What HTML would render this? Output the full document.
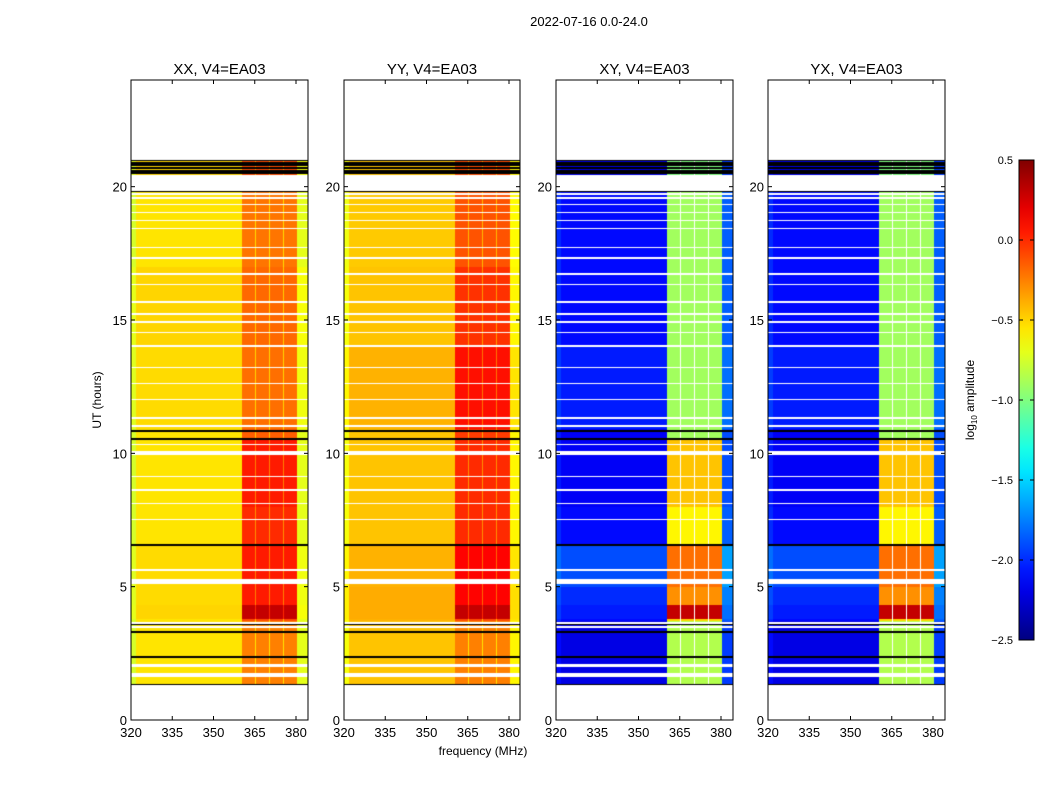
<!DOCTYPE html>
<html><head><meta charset="utf-8">
<style>
body{margin:0;background:#fff;}
#wrap{position:relative;width:1050px;height:800px;font-family:"Liberation Sans",sans-serif;}
canvas{position:absolute;}
svg{position:absolute;left:0;top:0;}
</style></head>
<body>
<div id="wrap">
<canvas id="c0" width="177" height="640" style="left:131px;top:80px"></canvas>
<canvas id="c1" width="176" height="640" style="left:344px;top:80px"></canvas>
<canvas id="c2" width="177" height="640" style="left:556px;top:80px"></canvas>
<canvas id="c3" width="177" height="640" style="left:768px;top:80px"></canvas>
<svg id="ov" width="1050" height="800"></svg>
</div>
<script>
// ---- data ----
const panelTitles = ["XX, V4=EA03","YY, V4=EA03","XY, V4=EA03","YX, V4=EA03"];
const panelLeft = [131,344,556,768];
const panelWidth = [177,176,177,177];
const xTicks = [320,335,350,365,380];
const yTicks = [0,5,10,15,20];
const cbTicks = [0.5,0.0,-0.5,-1.0,-1.5,-2.0,-2.5];
const blockEdges = [1.3,2.35,3.3,3.7,3.8,4.3,5.0,6.55,8.0,10.55,10.9,14.0,17.0,19.85,20.45,21.0];
const bandXX = [-0.25,-0.25,-0.25,-0.1,0.3,0.05,0.05,0.0,0.05,-0.15,-0.2,-0.18,-0.22,null,-0.1];
const leftXX = [-0.55,-0.55,-0.55,-0.55,-0.5,-0.52,-0.52,-0.55,-0.55,-0.55,-0.52,-0.5,-0.55,null,-0.5];
const bandYY = [-0.25,-0.25,-0.25,-0.1,0.3,0.12,0.12,0.0,0.0,-0.05,0.08,-0.02,-0.12,null,-0.1];
const leftYY = [-0.45,-0.45,-0.45,-0.4,-0.38,-0.38,-0.4,-0.45,-0.45,-0.45,-0.4,-0.45,-0.47,null,-0.45];
const bandXY = [-0.85,-0.85,-0.85,-0.5,0.3,-0.3,-0.2,-0.6,-0.45,-0.9,-0.9,-0.9,-0.9,null,-1.0];
const leftXY = [-2.2,-2.2,-2.2,-2.1,-2.05,-2.0,-1.9,-2.1,-2.15,-2.15,-2.05,-2.1,-2.1,null,-2.2];
const bandYX = [-0.85,-0.85,-0.85,-0.5,0.3,-0.3,-0.2,-0.6,-0.45,-0.9,-0.9,-0.9,-0.9,null,-1.0];
const leftYX = [-2.2,-2.2,-2.2,-2.1,-2.05,-2.0,-1.9,-2.1,-2.15,-2.15,-2.05,-2.1,-2.1,null,-2.2];
const flaggedRows = [[1.62,1.75],[2.0,2.1],[3.45,3.53],[3.6,3.68],[5.1,5.3],[5.6,5.65],[7.5,7.55],[8.1,8.15],[8.6,8.65],[9.1,9.15],[9.95,10.1],[10.3,10.35],[11.0,11.05],[11.3,11.35],[12.0,12.05],[12.6,12.65],[13.2,13.25],[14.0,14.05],[14.5,14.55],[14.9,14.95],[15.2,15.25],[15.65,15.7],[16.3,16.35],[16.7,16.75],[17.3,17.35],[17.7,17.75],[18.4,18.45],[18.7,18.75],[19.0,19.05],[19.3,19.35],[19.55,19.6],[19.7,19.75],[19.9,20.45]];
const blackRows = [1.32,2.35,3.3,3.6,6.55,10.55,10.85,19.85,20.5,20.6,20.7,20.8,20.9,21.0];
const flaggedChans = [[365.1,365.6],[370.2,370.7],[375.4,375.8]];
// ---- rendering ----
const bands=[bandXX,bandYY,bandXY,bandYX], lefts=[leftXX,leftYY,leftXY,leftYX];
function jet(t){t=Math.max(0,Math.min(1,t));
 const r=Math.max(0,Math.min(1,1.5-Math.abs(4*t-3))),g=Math.max(0,Math.min(1,1.5-Math.abs(4*t-2))),b=Math.max(0,Math.min(1,1.5-Math.abs(4*t-1)));
 return [r*255,g*255,b*255];}
function norm(v){return (v+2.5)/3;}
for(let p=0;p<4;p++){
 const cv=document.getElementById('c'+p),ctx=cv.getContext('2d');
 const W=panelWidth[p],H=640,img=ctx.createImageData(W,H);
 const cross=p>=2;
 for(let y=0;y<H;y++){
  const h=24-(y+0.5)/H*24;
  let bi=-1;for(let i=0;i<blockEdges.length-1;i++){if(h>=blockEdges[i]&&h<blockEdges[i+1])bi=i;}
  let white=bi<0||bands[p][bi]===null;
  for(const r of flaggedRows){if(h>=r[0]&&h<r[1])white=true;}
  let black=false;for(const b of blackRows){if(Math.abs(h-b)<0.035)black=true;}
  for(let x=0;x<W;x++){
   const f=320+(x+0.5)/2.75;const k=(y*W+x)*4;
   let c=[255,255,255];
   if(!white){
    let fl=false;for(const q of flaggedChans){if(f>=q[0]&&f<q[1])fl=true;}
    let v;const L=lefts[p][bi],B=bands[p][bi];
    if(f<322) v=cross?L+0.1:L-0.2;
    else if(f<360.4) v=L;
    else if(f<380.4){
      v=B;
      if(fl) v=cross?null:B-0.3;
    }
    else v=cross?L+0.25:L-0.15;
    if(v!==null)c=jet(norm(v));
    if(black)c=[0,0,0];
   }
   img.data[k]=c[0];img.data[k+1]=c[1];img.data[k+2]=c[2];img.data[k+3]=255;
  }
 }
 ctx.putImageData(img,0,0);
}
const ov=document.getElementById('ov');const NS='http://www.w3.org/2000/svg';
function el(tag,attrs,txt){const e=document.createElementNS(NS,tag);for(const a in attrs)e.setAttribute(a,attrs[a]);if(txt!==undefined)e.textContent=txt;ov.appendChild(e);return e;}
const yPix=h=>720-h*640/24;
let e=el('text',{x:589,y:26,'font-size':13,'text-anchor':'middle'},'2022-07-16 0.0-24.0');


for(let p=0;p<4;p++){
 const x0=panelLeft[p],W=panelWidth[p];
 e=el('rect',{x:x0,y:80,width:W,height:640,fill:'none',stroke:'#000','stroke-width':1});
 
 
 e=el('text',{x:x0+W/2,y:74,'font-size':15,'text-anchor':'middle'},panelTitles[p]);
 
 
 for(const t of xTicks){const xx=x0+(t-320)*2.75;
  el('line',{x1:xx,x2:xx,y1:720,y2:716,stroke:'#000'});el('line',{x1:xx,x2:xx,y1:80,y2:84,stroke:'#000'});
  e=el('text',{x:xx,y:737,'font-size':13,'text-anchor':'middle'},String(t));
  
  }
 for(const t of yTicks){const yy=yPix(t);
  el('line',{x1:x0,x2:x0+4,y1:yy,y2:yy,stroke:'#000'});el('line',{x1:x0+W-4,x2:x0+W,y1:yy,y2:yy,stroke:'#000'});
  e=el('text',{x:x0-4,y:yy+5,'font-size':13,'text-anchor':'end'},String(t));
  
  }
}
e=el('text',{x:483,y:755,'font-size':12,'text-anchor':'middle'},'frequency (MHz)');


e=el('text',{x:0,y:0,'font-size':12,'text-anchor':'middle',transform:'translate(101,400) rotate(-90)'},'UT (hours)');


const defs=el('defs',{});const lg=document.createElementNS(NS,'linearGradient');lg.setAttribute('id','jg');lg.setAttribute('x1','0');lg.setAttribute('y1','1');lg.setAttribute('x2','0');lg.setAttribute('y2','0');defs.appendChild(lg);
for(let i=0;i<=20;i++){const c=jet(i/20);const s=document.createElementNS(NS,'stop');s.setAttribute('offset',i/20);s.setAttribute('stop-color',`rgb(${c.map(Math.round).join(',')})`);lg.appendChild(s);}
e=el('rect',{x:1019,y:160,width:15,height:480,fill:'url(#jg)',stroke:'#000','stroke-width':1});


for(const t of cbTicks){const yy=640-(t+2.5)/3*480;
 el('line',{x1:1019,x2:1023,y1:yy,y2:yy,stroke:'#000'});el('line',{x1:1030,x2:1034,y1:yy,y2:yy,stroke:'#000'});
 e=el('text',{x:1013,y:yy+4,'font-size':11,'text-anchor':'end'},t.toFixed(1).replace('-','\u2212'));
 
 }
e=el('text',{x:0,y:0,'font-size':12,'text-anchor':'middle',transform:'translate(974,400) rotate(-90)'});


e.innerHTML='log<tspan font-size="8" dy="3">10</tspan><tspan dy="-3"> amplitude</tspan>';
</script>
</body></html>
